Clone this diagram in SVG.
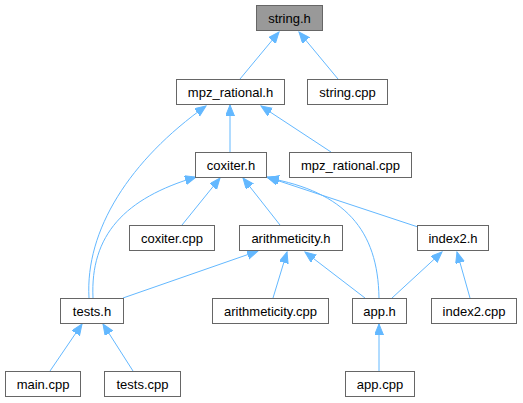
<svg xmlns="http://www.w3.org/2000/svg" width="523" height="403" viewBox="0 0 523 403">
<style>
.node rect{fill:#ffffff;stroke:#666666;stroke-width:1}
.node.main rect{fill:#999999}
.node text{font-family:"Liberation Sans",Arial,sans-serif;font-size:13px;fill:#000000;text-anchor:middle}
.edges path{fill:none;stroke:#63b8ff;stroke-width:1;marker-end:url(#arr)}
</style>
<defs>
<marker id="arr" markerUnits="userSpaceOnUse" markerWidth="13" markerHeight="11" refX="11" refY="4.5" orient="auto">
<path d="M0,0 L11,4.5 L0,9 z" fill="#63b8ff" stroke="#63b8ff" stroke-width="1"/>
</marker>
</defs>
<rect width="523" height="403" fill="#ffffff"/>
<g class="edges">
<path d="M240,79 L279,32"/>
<path d="M338,79 L299,32"/>
<path d="M230,152 L230,105"/>
<path d="M331,152 L261,106"/>
<path d="M89,298 C85,230 130,160 206,106"/>
<path d="M93,298 C90,235 125,198 196,177"/>
<path d="M182,225 L220,178"/>
<path d="M280,225 L243,178"/>
<path d="M418,227 L267,177"/>
<path d="M379,298 C378,230 345,192 268,178"/>
<path d="M123,298 L258,251"/>
<path d="M273,298 L287,252"/>
<path d="M365,298 L305,252"/>
<path d="M392,298 L442,252"/>
<path d="M470,298 L457,252"/>
<path d="M50,371 L82,324"/>
<path d="M133,371 L103,324"/>
<path d="M379,371 L379,324"/>
</g>
<g id="string_h" class="node main"><rect x="256.5" y="5.5" width="66" height="25"/><text x="289.5" y="22.5">string.h</text></g>
<g id="mpz_rational_h" class="node"><rect x="176.5" y="79.5" width="108" height="25"/><text x="230.5" y="96.5">mpz_rational.h</text></g>
<g id="string_cpp" class="node"><rect x="307.5" y="79.5" width="80" height="25"/><text x="347.5" y="96.5">string.cpp</text></g>
<g id="coxiter_h" class="node"><rect x="195.5" y="152.5" width="71" height="25"/><text x="231" y="169.5">coxiter.h</text></g>
<g id="mpz_rational_cpp" class="node"><rect x="289.5" y="152.5" width="122" height="25"/><text x="350.5" y="169.5">mpz_rational.cpp</text></g>
<g id="coxiter_cpp" class="node"><rect x="129.5" y="225.5" width="85" height="25"/><text x="172" y="242.5">coxiter.cpp</text></g>
<g id="arithmeticity_h" class="node"><rect x="239.5" y="225.5" width="103" height="25"/><text x="291" y="242.5">arithmeticity.h</text></g>
<g id="index2_h" class="node"><rect x="417.5" y="225.5" width="71" height="25"/><text x="453" y="242.5">index2.h</text></g>
<g id="tests_h" class="node"><rect x="60.5" y="298.5" width="63" height="25"/><text x="92" y="315.5">tests.h</text></g>
<g id="arithmeticity_cpp" class="node"><rect x="212.5" y="298.5" width="116" height="25"/><text x="270.5" y="315.5">arithmeticity.cpp</text></g>
<g id="app_h" class="node"><rect x="352.5" y="298.5" width="54" height="25"/><text x="379.5" y="315.5">app.h</text></g>
<g id="index2_cpp" class="node"><rect x="431.5" y="298.5" width="85" height="25"/><text x="474" y="315.5">index2.cpp</text></g>
<g id="main_cpp" class="node"><rect x="5.5" y="371.5" width="75" height="25"/><text x="43" y="388.5">main.cpp</text></g>
<g id="tests_cpp" class="node"><rect x="104.5" y="371.5" width="76" height="25"/><text x="142.5" y="388.5">tests.cpp</text></g>
<g id="app_cpp" class="node"><rect x="345.5" y="371.5" width="69" height="25"/><text x="380" y="388.5">app.cpp</text></g>
</svg>
